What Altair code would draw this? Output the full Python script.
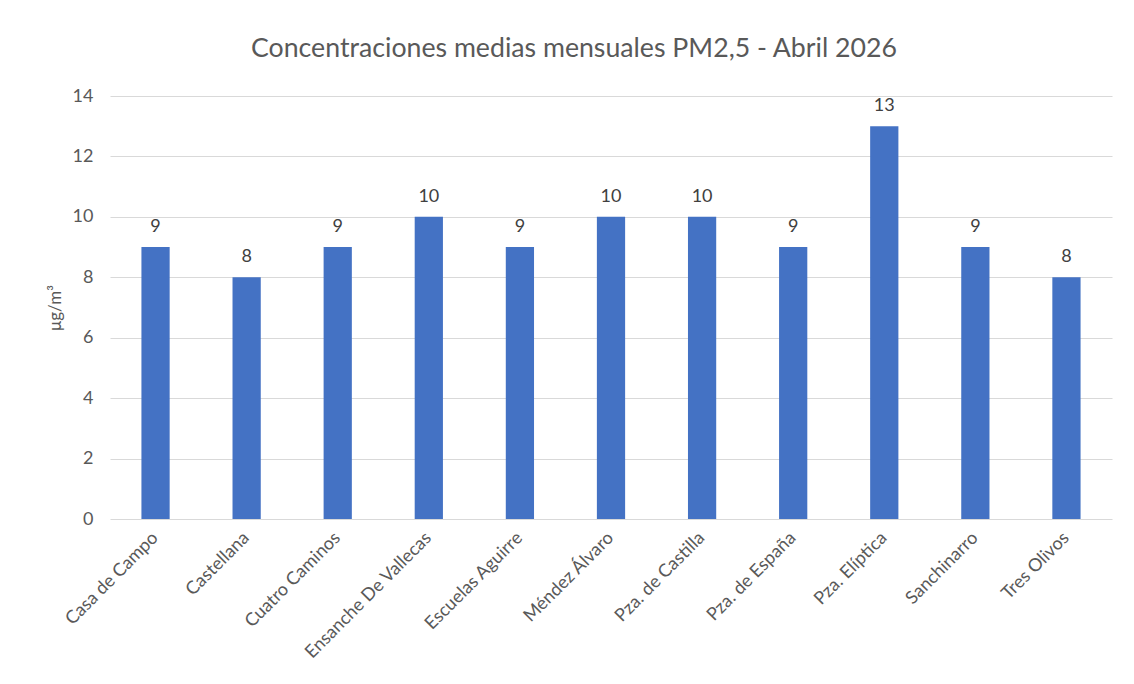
import altair as alt
import pandas as pd

stations = ["Casa de Campo", "Castellana", "Cuatro Caminos", "Ensanche De Vallecas",
            "Escuelas Aguirre", "Méndez Álvaro", "Pza. de Castilla", "Pza. de España",
            "Pza. Elíptica", "Sanchinarro", "Tres Olivos"]
values = [9, 8, 9, 10, 9, 10, 10, 9, 13, 9, 8]

df = pd.DataFrame({"station": stations, "value": values})

x = alt.X("station:N", sort=stations, title=None,
          scale=alt.Scale(paddingInner=0.69, paddingOuter=0.345),
          axis=alt.Axis(labelAngle=-45, labelFont="Lato", labelFontSize=18,
                        labelColor="#595959", domain=False, ticks=False,
                        labelPadding=16, labelAlign="right", labelBaseline="middle"))
y = alt.Y("value:Q", title="μg/m³",
          scale=alt.Scale(domain=[0, 14]),
          axis=alt.Axis(values=[0, 2, 4, 6, 8, 10, 12, 14], labelFont="Lato",
                        labelFontSize=18, labelColor="#595959", domain=False,
                        ticks=False, labelPadding=17, gridColor="#d9d9d9",
                        titleFont="Lato", titleFontSize=17, titleFontWeight="normal",
                        titleColor="#595959", titlePadding=8))

bars = alt.Chart(df).mark_bar(color="#4472C4").encode(x=x, y=y)
labels = alt.Chart(df).mark_text(font="Lato", fontSize=18, color="#404040",
                                 baseline="alphabetic", dy=-15).encode(
    x=alt.X("station:N", sort=stations), y="value:Q", text="value:Q")

chart = alt.layer(bars, labels).properties(
    width=1002, height=423,
    padding={"left": 38, "top": 28, "right": 10, "bottom": 10},
    title=alt.TitleParams("Concentraciones medias mensuales PM2,5 - Abril 2026",
                          font="Lato", fontSize=26.7, fontWeight="normal",
                          color="#595959", anchor="middle", offset=24, dx=-37),
).configure_view(stroke=None)

chart.save("out.html", embed_options={"renderer": "svg", "actions": False})
